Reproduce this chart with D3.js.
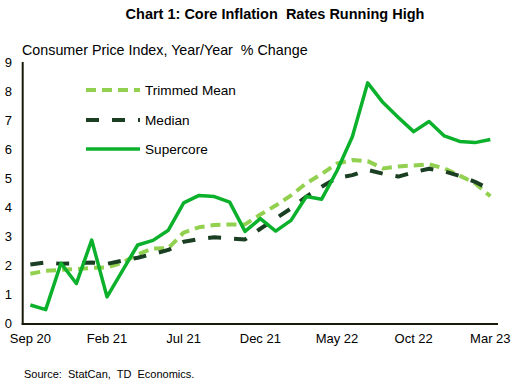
<!DOCTYPE html>
<html><head><meta charset="utf-8">
<script src="https://cdn.jsdelivr.net/npm/d3@7"></script>
<style>body{margin:0;background:#fff}svg{display:block;font-family:"Liberation Sans",Arial,sans-serif}text{white-space:pre}</style>
</head><body><svg id="c" width="517" height="386"></svg>
<script>
const months = ["Sep 20","Oct 20","Nov 20","Dec 20","Jan 21","Feb 21","Mar 21","Apr 21","May 21","Jun 21","Jul 21","Aug 21","Sep 21","Oct 21","Nov 21","Dec 21","Jan 22","Feb 22","Mar 22","Apr 22","May 22","Jun 22","Jul 22","Aug 22","Sep 22","Oct 22","Nov 22","Dec 22","Jan 23","Feb 23","Mar 23"];
const xTickLabels = ["Sep 20","Feb 21","Jul 21","Dec 21","May 22","Oct 22","Mar 23"];
const yTicks = [0,1,2,3,4,5,6,7,8,9];
const trimmedMean = [1.7,1.8,1.83,1.86,1.9,1.92,2.08,2.37,2.57,2.58,3.12,3.3,3.38,3.4,3.4,3.74,4.05,4.4,4.82,5.14,5.5,5.62,5.58,5.33,5.4,5.43,5.47,5.33,5.08,4.82,4.37];
const median = [2.02,2.09,2.04,2.06,2.09,2.04,2.15,2.25,2.38,2.52,2.8,2.89,2.96,2.92,2.88,3.25,3.6,3.95,4.36,4.7,5.0,5.1,5.28,5.15,5.05,5.2,5.32,5.23,5.07,4.87,4.6];
const supercore = [0.62,0.46,2.06,1.36,2.86,0.9,1.8,2.69,2.85,3.2,4.14,4.4,4.36,4.17,3.16,3.6,3.17,3.54,4.36,4.27,5.25,6.42,8.28,7.6,7.09,6.6,6.95,6.45,6.26,6.22,6.33];

const svg = d3.select("#c");
const x = d3.scaleBand().domain(months).range([22.7, 498]);
const y = d3.scaleLinear().domain([0, 9]).range([323, 62]);
const cx = d => x(d) + x.bandwidth()/2;

svg.append("text").attr("x", 275).attr("y", 19).attr("text-anchor","middle")
  .attr("font-weight","bold").attr("font-size", 14.5).attr("fill","#000")
  .text("Chart 1: Core Inflation  Rates Running High");
svg.append("text").attr("x", 22).attr("y", 55).attr("font-size", 14.3).attr("fill","#000")
  .text("Consumer Price Index, Year/Year  % Change");

// y axis labels
const yAxis = d3.axisLeft(y).tickValues(yTicks).tickSize(0).tickPadding(0).tickFormat(d3.format("d"));
const gy = svg.append("g").attr("transform","translate(12,0)").call(yAxis);
gy.select(".domain").remove();
gy.selectAll("text").attr("font-size", 13).attr("font-family","Liberation Sans, Arial, sans-serif").attr("fill","#000").attr("dy","0.35em");

// x axis
const xAxis = d3.axisBottom(x).tickValues(xTickLabels).tickSize(0).tickPadding(10);
const gx = svg.append("g").attr("transform","translate(0,324)").call(xAxis);
gx.select(".domain").remove();
gx.selectAll("text").attr("font-size", 13).attr("font-family","Liberation Sans, Arial, sans-serif").attr("fill","#000");

// axis lines
svg.append("line").attr("x1", 22.7).attr("x2", 22.7).attr("y1", 62).attr("y2", 325).attr("stroke","#1a1a0a").attr("stroke-width",2);
svg.append("line").attr("x1", 21.7).attr("x2", 498).attr("y1", 324).attr("y2", 324).attr("stroke","#1a1a0a").attr("stroke-width",2);

const line = d3.line().x((d,i) => cx(months[i])).y(d => y(d));
const series = [
  {name:"Trimmed Mean", data:trimmedMean, color:"#92D050", w:4, dash:"10,6"},
  {name:"Median", data:median, color:"#1B3F22", w:4, dash:"13,13"},
  {name:"Supercore", data:supercore, color:"#0BB02B", w:3.5, dash:null}
];
series.forEach(s => {
  svg.append("path").datum(s.data).attr("d", line).attr("fill","none")
    .attr("stroke", s.color).attr("stroke-width", s.w)
    .attr("stroke-dasharray", s.dash).attr("stroke-linejoin","round");
});

// legend
const ly = [90, 120, 149];
series.forEach((s,i) => {
  svg.append("line").attr("x1", 86).attr("x2", 140).attr("y1", ly[i]).attr("y2", ly[i])
    .attr("stroke", s.color).attr("stroke-width", s.w).attr("stroke-dasharray", s.dash);
  svg.append("text").attr("x", 145).attr("y", ly[i]).attr("dy","0.35em").attr("font-size", 13.6).attr("fill","#000").text(s.name);
});

svg.append("text").attr("x", 24).attr("y", 378).attr("font-size", 11).attr("fill","#000")
  .text("Source:  StatCan,  TD  Economics.");
</script></body></html>
